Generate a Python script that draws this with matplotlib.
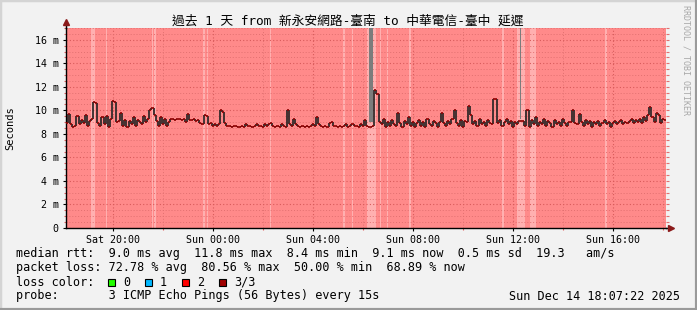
import numpy as np
import matplotlib.pyplot as plt
from matplotlib.patches import Rectangle
from matplotlib.lines import Line2D

# time axis: hours since Sat 00:00, one median value every 5 minutes
start_h = 18 + 7 / 60
bin_h = 1 / 12

# median rtt in ms, one row per hour
rtt_ms = [
    8.9, 9.7, 8.8, 8.6, 8.7, 9.5, 8.8, 9.2, 8.9, 9.6, 8.7, 9.1,
    9.3, 10.7, 10.6, 8.9, 8.7, 9.4, 8.8, 9.5, 8.6, 9.3, 10.8, 10.7,
    9.0, 9.1, 9.8, 8.7, 9.2, 8.6, 9.1, 8.8, 9.4, 8.7, 9.2, 9.0,
    8.8, 9.5, 9.0, 9.3, 10.0, 10.2, 9.6, 9.1, 8.7, 9.4, 8.8, 9.3,
    8.7, 9.0, 9.3, 9.3, 9.2, 9.3, 9.3, 9.2, 9.3, 9.0, 9.7, 9.2,
    9.2, 9.3, 9.1, 9.2, 8.9, 8.8, 9.6, 9.5, 8.8, 8.9, 8.7, 8.8,
    8.7, 8.8, 10.0, 9.9, 8.9, 8.7, 8.7, 8.6, 8.7, 8.7, 8.6, 8.6,
    8.7, 8.6, 8.8, 8.7, 8.7, 8.6, 8.7, 8.8, 8.7, 8.7, 8.6, 8.8,
    8.7, 8.8, 8.9, 8.7, 8.6, 8.7, 8.6, 8.8, 8.7, 8.6, 10.0, 8.8,
    8.7, 9.3, 8.8, 8.7, 8.6, 8.7, 8.6, 8.7, 8.6, 8.7, 8.8, 8.7,
    9.4, 8.8, 8.7, 8.6, 8.7, 8.6, 8.9, 9.0, 8.7, 8.7, 8.6, 8.7,
    8.6, 8.7, 8.8, 8.6, 8.7, 8.8, 8.7, 8.7, 8.6, 8.8, 8.7, 9.2,
    8.7, 8.6, 8.6, 8.7, 11.7, 11.4, 9.0, 8.8, 9.3, 8.6, 9.0, 8.7,
    9.2, 8.8, 8.7, 9.8, 8.9, 8.6, 9.1, 8.8, 9.4, 8.7, 9.0, 8.6,
    8.9, 9.2, 8.7, 9.0, 8.6, 9.3, 8.8, 8.7, 9.1, 8.9, 8.6, 9.0,
    9.8, 8.9, 8.7, 9.1, 8.8, 9.3, 10.0, 8.9, 8.7, 9.2, 8.6, 9.1,
    9.0, 10.4, 9.6, 8.8, 9.1, 8.7, 9.3, 8.8, 9.0, 8.7, 9.2, 8.9,
    8.8, 11.0, 11.0, 8.9, 9.2, 8.7, 9.0, 9.3, 8.8, 9.1, 8.6, 9.0,
    8.8, 9.1, 9.1, 9.1, 8.7, 10.0, 8.6, 9.2, 8.8, 9.4, 8.7, 9.0,
    8.8, 9.3, 8.7, 9.1, 8.9, 8.6, 9.2, 8.8, 9.0, 8.7, 9.3, 8.9,
    8.7, 9.0, 9.0, 10.0, 8.9, 8.8, 9.7, 9.0, 8.7, 9.2, 8.8, 9.1,
    8.6, 9.0, 8.8, 9.1, 8.7, 8.9, 9.2, 8.8, 9.0, 8.6, 8.9, 9.1,
    8.8, 9.0, 9.2, 8.8, 9.0, 8.9, 9.1, 9.3, 8.9, 9.2, 9.0, 9.3,
    8.9, 9.4, 9.1, 9.6, 10.3, 9.4, 9.0, 9.8, 9.6, 8.9, 9.3, 9.2,
]

# periods with lighter loss shading (hours)
light_start = [19.12, 19.73, 21.56, 21.65, 23.60, 23.76, 26.26, 29.20, 29.56,
               30.16, 30.69, 30.96, 31.82, 35.56, 36.16, 36.69, 39.69]
light_end = [19.29, 19.77, 21.60, 21.72, 23.66, 23.80, 26.32, 29.29, 29.58,
             30.53, 30.72, 31.00, 31.92, 35.62, 36.49, 36.93, 39.76]

# smoke reaching above the graph
smoke_start = [30.22, 36.29]
smoke_end = [30.38, 36.33]
smoke_low = [9.0, 9.3]
smoke_high = [30.0, 30.0]

tick_hours = [20, 24, 28, 32, 36, 40]
tick_labels = ["Sat 20:00", "Sun 00:00", "Sun 04:00", "Sun 08:00", "Sun 12:00", "Sun 16:00"]
y_ticks = [0, 2, 4, 6, 8, 10, 12, 14, 16]
y_labels = ["0", "2 m", "4 m", "6 m", "8 m", "10 m", "12 m", "14 m", "16 m"]

title = "過去 1 天 from 新永安網路-臺南 to 中華電信-臺中 延遲"
rtt_line = "median rtt:  9.0 ms avg  11.8 ms max  8.4 ms min  9.1 ms now  0.5 ms sd  19.3   am/s"
loss_line = "packet loss: 72.78 % avg  80.56 % max  50.00 % min  68.89 % now"
loss_names = ["0", "1", "2", "3/3"]
loss_colors = ["#22FF00", "#00B8FF", "#FF0000", "#A00000"]
probe_line = "probe:       3 ICMP Echo Pings (56 Bytes) every 15s"
stamp = "Sun Dec 14 18:07:22 2025"

mono = "DejaVu Sans Mono"
W, H = 697, 310

fig = plt.figure(figsize=(W / 100, H / 100), dpi=100, facecolor="#F2F2F2")
ax = fig.add_axes([66 / W, 82 / H, 600 / W, 200 / H])
ax.set_facecolor("#FF8A8A")
ax.set_xlim(start_h, start_h + 24)
ax.set_ylim(0, 17)

for s, e in zip(light_start, light_end):
    ax.axvspan(s, e, color="#FFB0B0", lw=0, zorder=1)

ax.bar(smoke_start, np.array(smoke_high) - np.array(smoke_low),
       width=np.array(smoke_end) - np.array(smoke_start), bottom=smoke_low,
       align="edge", color="#7C7C7C", lw=0, zorder=2)

rtt = np.array(rtt_ms)
t = start_h + np.arange(len(rtt)) * bin_h
ax.vlines(t[1:], rtt[:-1], rtt[1:], colors="#222222", lw=1.2, zorder=3)
ax.hlines(rtt, t, t + bin_h, colors="#8E0000", lw=1.2, zorder=4)

# grid and ticks
ax.set_xticks(tick_hours)
ax.set_xticklabels(tick_labels)
ax.set_xticks(np.arange(20, 42.5, 2), minor=True)
ax.set_yticks(y_ticks)
ax.set_yticklabels(y_labels)
ax.set_yticks(np.arange(0, 17.01, 0.5), minor=True)
ax.grid(which="major", color="#D85A5A", ls=(0, (1, 2)), lw=0.8)
ax.grid(which="minor", color="#E27070", ls=(0, (1, 2)), lw=0.7)
ax.tick_params(which="both", labelsize=7.2, colors="#000000", length=2.2, width=0.8, pad=3)
ax.tick_params(which="minor", color="#E06060", length=1.5)
for lab in ax.get_xticklabels() + ax.get_yticklabels():
    lab.set_family(mono)

right = ax.secondary_yaxis("right")
right.set_yticks(np.arange(0, 17.01, 0.5))
right.set_yticklabels([])
right.tick_params(color="#E07070", length=2, width=0.8)
right.spines["right"].set_visible(False)

for side in ["top", "right"]:
    ax.spines[side].set_visible(False)
ax.spines["left"].set_linewidth(1)
ax.spines["bottom"].set_linewidth(1)

# axis arrows
ax.add_line(Line2D([0, 0], [1, 1.02], color="black", lw=1, transform=ax.transAxes, clip_on=False))
ax.plot([0], [1.03], marker="^", ms=4.5, color="#8B1A1A", transform=ax.transAxes, clip_on=False)
ax.add_line(Line2D([1, 1.005], [0, 0], color="black", lw=1, transform=ax.transAxes, clip_on=False))
ax.plot([1.009], [0], marker=">", ms=4.5, color="#8B1A1A", transform=ax.transAxes, clip_on=False)

# texts
fig.text(348 / W, 1 - 21 / H, title, ha="center", va="center", fontsize=9.2,
         family=[mono, "Noto Sans CJK TC"])
fig.text(10 / W, 1 - 128 / H, "Seconds", rotation=90, ha="center", va="center",
         fontsize=7.5, family=mono)
fig.text(686 / W, 1 - 5 / H, "RRDTOOL / TOBI OETIKER", rotation=270, ha="center", va="top",
         fontsize=6, family=mono, color="#A8A8A8")

fs = 8.5
fig.text(16 / W, 1 - 254 / H, rtt_line, va="center", fontsize=fs, family=mono)
fig.text(16 / W, 1 - 268 / H, loss_line, va="center", fontsize=fs, family=mono)
fig.text(16 / W, 1 - 282 / H, "loss color:", va="center", fontsize=fs, family=mono)
for k, (name, col) in enumerate(zip(loss_names, loss_colors)):
    x0 = 108 + k * 37
    fig.add_artist(Rectangle((x0 / W, 1 - 286 / H), 7 / W, 7 / H, transform=fig.transFigure,
                             facecolor=col, edgecolor="black", lw=0.8))
    fig.text((x0 + 15) / W, 1 - 282 / H, name, va="center", fontsize=fs, family=mono)
fig.text(16 / W, 1 - 296 / H, probe_line, va="center", fontsize=fs, family=mono)
fig.text(680 / W, 1 - 296 / H, stamp, ha="right", va="center", fontsize=fs, family=mono)

# 3d frame around the canvas
fig.add_artist(Line2D([0, 1], [1, 1], transform=fig.transFigure, color="#D4D4D4", lw=2.5))
fig.add_artist(Line2D([0, 0], [0, 1], transform=fig.transFigure, color="#D4D4D4", lw=2.5))
fig.add_artist(Line2D([0, 1], [0, 0], transform=fig.transFigure, color="#9A9A9A", lw=3))
fig.add_artist(Line2D([1, 1], [0, 1], transform=fig.transFigure, color="#9A9A9A", lw=3))

fig.savefig("out.png", dpi=100, facecolor=fig.get_facecolor())
